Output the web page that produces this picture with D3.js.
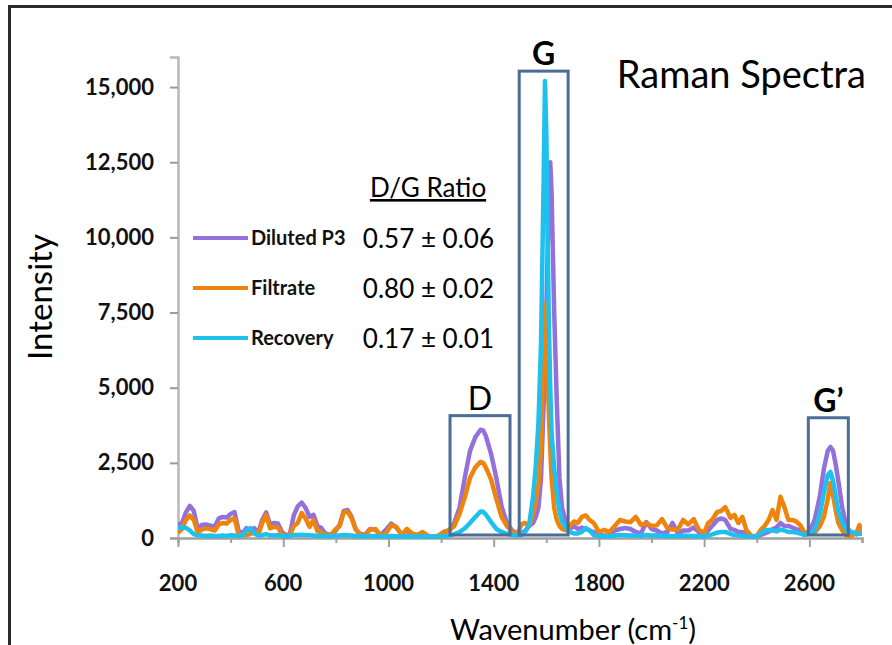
<!DOCTYPE html>
<html>
<head>
<meta charset="utf-8">
<script src="https://cdn.jsdelivr.net/npm/d3@7"></script>
<style>
  body { margin: 0; background: #fff; }
  svg { display: block; font-family: Lato, "Open Sans", sans-serif; }
</style>
</head>
<body>
<svg width="892" height="645"></svg>
<script>
// wavenumbers (cm-1), shared by all three spectra
let wavenumbers = [
  200, 215, 230, 245, 260, 275, 290, 305, 320, 340,
  355, 370, 385, 400, 415, 430, 445, 460, 475, 490,
  505, 520, 535, 550, 565, 580, 595, 610, 625, 640,
  655, 670, 685, 700, 715, 730, 745, 760, 780, 800,
  815, 830, 845, 860, 875, 890, 910, 930, 950, 970,
  990, 1010, 1030, 1050, 1070, 1090, 1110, 1130, 1150, 1170,
  1190, 1210, 1230, 1250, 1270, 1290, 1310, 1330, 1350, 1360,
  1370, 1390, 1410, 1430, 1450, 1470, 1490, 1505, 1520, 1535,
  1550, 1560, 1570, 1580, 1590, 1595, 1600, 1605, 1610, 1615,
  1620, 1630, 1640, 1650, 1660, 1675, 1690, 1705, 1720, 1735,
  1750, 1765, 1780, 1800, 1820, 1840, 1860, 1880, 1900, 1920,
  1940, 1960, 1980, 2000, 2020, 2040, 2060, 2080, 2100, 2120,
  2140, 2160, 2180, 2200, 2215, 2230, 2250, 2265, 2280, 2300,
  2315, 2330, 2345, 2360, 2380, 2400, 2415, 2430, 2445, 2460,
  2475, 2490, 2505, 2520, 2535, 2550, 2565, 2580, 2600, 2620,
  2640, 2655, 2670, 2680, 2690, 2700, 2710, 2725, 2740, 2760,
  2780, 2790, 2800
];

let dilutedP3 = [
  430, 500, 850, 1070, 900, 300, 430, 450, 420, 380,
  650, 700, 680, 800, 860, 250, 150, 330, 250, 330,
  170, 600, 850, 450, 500, 480, 200, 100, 120, 750,
  1050, 1180, 1000, 700, 770, 400, 330, 150, 100, 250,
  450, 900, 930, 700, 300, 150, 100, 300, 280, 90,
  270, 480, 350, 120, 250, 100, 80, 180, 60, 50,
  80, 200, 250, 500, 1000, 2000, 2900, 3350, 3600, 3580,
  3400, 2800, 2000, 1050, 500, 250, 150, 150, 250, 400,
  500, 700, 1000, 2000, 4500, 5800, 7500, 9500, 11500, 12500,
  11500, 7500, 4500, 2000, 1000, 500, 300, 400, 300, 350,
  300, 250, 200, 100, 80, 90, 250, 300, 330, 300,
  200, 150, 530, 300, 250, 150, 200, 500, 150, 250,
  250, 350, 200, 100, 250, 400, 600, 650, 600, 300,
  270, 200, 200, 120, 60, 60, 100, 150, 200, 300,
  350, 500, 400, 400, 350, 300, 250, 150, 200, 600,
  1400, 2300, 2900, 3030, 2900, 2450, 1900, 1000, 400, 150,
  120, 150, 150
];

let filtrate = [
  170, 300, 600, 750, 600, 170, 280, 320, 300, 250,
  450, 500, 480, 600, 650, 120, 80, 100, 130, 200,
  100, 500, 760, 320, 370, 350, 120, 60, 80, 400,
  500, 830, 650, 370, 600, 220, 200, 100, 80, 300,
  400, 860, 870, 650, 300, 120, 80, 280, 300, 80,
  150, 420, 370, 100, 300, 150, 100, 200, 70, 60,
  60, 200, 250, 400, 800, 1350, 2000, 2350, 2530, 2500,
  2350, 1950, 1300, 700, 400, 200, 120, 450, 500, 400,
  800, 1200, 1800, 3000, 6500, 7800, 7200, 5500, 4000, 3000,
  2000, 1000, 600, 400, 300, 250, 400, 550, 500, 700,
  750, 600, 500, 200, 270, 200, 400, 600, 550, 530,
  700, 430, 500, 400, 420, 630, 330, 280, 280, 600,
  450, 630, 270, 170, 500, 600, 870, 900, 1030, 670,
  770, 500, 700, 270, 70, 70, 270, 400, 600, 930,
  600, 1370, 1030, 600, 600, 550, 430, 200, 150, 170,
  400, 700, 1300, 1830, 1400, 930, 500, 250, 80, 70,
  200, 430, 250
];

let recovery = [
  330, 350, 340, 250, 130, 90, 80, 70, 80, 70,
  70, 80, 70, 90, 80, 70, 80, 250, 330, 150,
  80, 100, 130, 90, 80, 100, 70, 60, 70, 100,
  100, 110, 90, 90, 80, 70, 80, 70, 60, 80,
  80, 100, 90, 80, 70, 60, 60, 70, 70, 60,
  60, 70, 60, 50, 60, 50, 50, 60, 50, 50,
  50, 60, 80, 130, 200, 320, 500, 700, 880, 870,
  780, 530, 300, 200, 140, 100, 80, 90, 200, 450,
  1400, 2400, 3800, 6500, 12000, 15200, 13500, 10000, 7000, 5000,
  3500, 2300, 1500, 900, 550, 350, 200, 150, 150, 200,
  330, 250, 100, 70, 60, 60, 80, 100, 90, 80,
  80, 70, 100, 80, 90, 70, 70, 70, 70, 80,
  70, 70, 60, 60, 80, 120, 180, 200, 200, 140,
  100, 90, 70, 50, 50, 60, 150, 250, 270, 250,
  220, 280, 250, 200, 200, 180, 150, 100, 150, 270,
  800, 1500, 2100, 2200, 1900, 1400, 900, 500, 280, 200,
  150, 150, 150
];

let seriesNames = ["Diluted P3", "Filtrate", "Recovery"];
let seriesColors = ["#9370db", "#ef840d", "#1ec0ee"];
let ratios = ["0.57 \u00b1 0.06", "0.80 \u00b1 0.02", "0.17 \u00b1 0.01"];

let yTicks = [0, 2500, 5000, 7500, 10000, 12500, 15000];
let xTicks = [200, 600, 1000, 1400, 1800, 2200, 2600];

// highlighted peak regions: [label, x0, x1, topIntensity, bold]
let peakBoxes = [
  ["D", 1234, 1462, 4070, false],
  ["G", 1497, 1683, 15530, true],
  ["G\u2019", 2596, 2748, 4000, true]
];

let svg = d3.select("svg");
let plotLeft = 178, plotRight = 862, plotTop = 57, plotBottom = 538;

let x = d3.scaleLinear().domain([200, 2800]).range([plotLeft, plotRight]);
let y = d3.scaleLinear().domain([0, 16000]).range([plotBottom, plotTop]);

// outer frame (left and top edges only)
svg.append("path")
  .attr("d", "M9.5,645 L9.5,6.5 L892,6.5")
  .attr("fill", "none")
  .attr("stroke", "#2b2b2b")
  .attr("stroke-width", 3);

// y axis
let yAxis = svg.append("g")
  .attr("transform", "translate(" + plotLeft + ",0)")
  .call(d3.axisLeft(y).tickValues(yTicks).tickSize(8).tickPadding(16).tickFormat(d3.format(",")));
yAxis.select(".domain").attr("stroke", "#b8b8b8").attr("stroke-width", 2.5);
yAxis.selectAll(".tick line").attr("stroke", "#9a9a9a").attr("stroke-width", 2);
yAxis.selectAll("text").attr("font-size", 22).attr("font-weight", "bold").attr("fill", "#111")
  .attr("font-family", "Lato, sans-serif");

// x axis: minor ticks every 200, labels every 400
let xAxis = svg.append("g")
  .attr("transform", "translate(0," + plotBottom + ")")
  .call(d3.axisBottom(x).tickValues(d3.range(200, 2801, 200)).tickSize(5).tickFormat(""));
xAxis.select(".domain").attr("stroke", "#a0a0a0").attr("stroke-width", 2.5);
xAxis.selectAll(".tick line").attr("stroke", "#a0a0a0").attr("stroke-width", 2)
  .attr("y2", d => xTicks.includes(d) ? 9 : 5);
svg.append("g").selectAll("text")
  .data(xTicks)
  .join("text")
    .attr("x", d => x(d))
    .attr("y", 591)
    .attr("text-anchor", "middle")
    .attr("font-size", 22)
    .attr("font-weight", "bold")
    .attr("fill", "#111")
    .text(d => d);

// spectra
svg.append("clipPath").attr("id", "plotclip")
  .append("rect").attr("x", plotLeft).attr("y", plotTop)
  .attr("width", plotRight - plotLeft).attr("height", plotBottom - plotTop + 2);

let line = d3.line()
  .x((d, i) => x(wavenumbers[i]))
  .y(d => y(d));

svg.append("g")
  .attr("clip-path", "url(#plotclip)")
  .selectAll("path")
  .data([dilutedP3, filtrate, recovery])
  .join("path")
    .attr("fill", "none")
    .attr("stroke", (d, i) => seriesColors[i])
    .attr("stroke-width", 4.5)
    .attr("stroke-linejoin", "round")
    .attr("d", line);

// peak boxes and labels
let boxes = svg.append("g");
peakBoxes.forEach(b => {
  boxes.append("rect")
    .attr("x", x(b[1]))
    .attr("y", y(b[3]))
    .attr("width", x(b[2]) - x(b[1]))
    .attr("height", y(100) - y(b[3]))
    .attr("fill", "none")
    .attr("stroke", "#4b6d97")
    .attr("stroke-width", 3);
  boxes.append("text")
    .attr("x", (x(b[1]) + x(b[2])) / 2)
    .attr("y", y(b[3]) - 6)
    .attr("text-anchor", "middle")
    .attr("font-size", 32)
    .attr("font-weight", b[4] ? "bold" : "normal")
    .attr("fill", "#000")
    .text(b[0]);
});

// legend
let legend = svg.append("g");
legend.append("text")
  .attr("x", 428).attr("y", 197)
  .attr("text-anchor", "middle")
  .attr("font-size", 26)
  .attr("text-decoration", "underline")
  .text("D/G Ratio");
seriesNames.forEach((name, i) => {
  let ly = 238 + i * 50;
  legend.append("line")
    .attr("x1", 193).attr("x2", 248)
    .attr("y1", ly).attr("y2", ly)
    .attr("stroke", seriesColors[i])
    .attr("stroke-width", 4);
  legend.append("text")
    .attr("x", 251).attr("y", ly + 7)
    .attr("font-size", 20)
    .attr("font-weight", "bold")
    .attr("fill", "#111")
    .text(name);
  legend.append("text")
    .attr("x", 494).attr("y", ly + 10)
    .attr("text-anchor", "end")
    .attr("font-size", 26)
    .text(ratios[i]);
});

// titles
svg.append("text")
  .attr("x", 866).attr("y", 88)
  .attr("text-anchor", "end")
  .attr("font-size", 38)
  .text("Raman Spectra");

svg.append("text")
  .attr("transform", "translate(52,297) rotate(-90)")
  .attr("text-anchor", "middle")
  .attr("font-size", 33)
  .text("Intensity");

let xt = svg.append("text")
  .attr("x", 573).attr("y", 640)
  .attr("text-anchor", "middle")
  .attr("font-size", 29);
xt.append("tspan").text("Wavenumber (cm");
xt.append("tspan").attr("font-size", 17).attr("dy", -11).text("-1");
xt.append("tspan").attr("dy", 11).text(")");
</script>
</body>
</html>
